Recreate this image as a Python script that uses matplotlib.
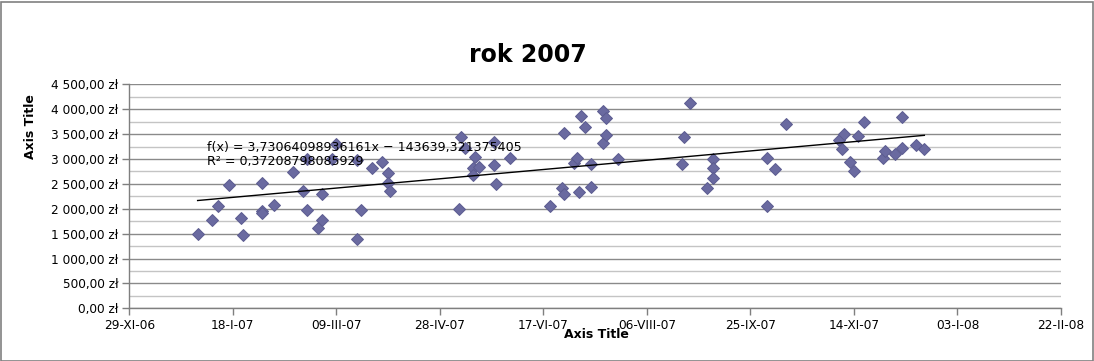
import matplotlib
matplotlib.use("Agg")
import matplotlib.pyplot as plt
import matplotlib.dates as mdates
from matplotlib.ticker import FixedLocator, FuncFormatter, MultipleLocator
from matplotlib.patches import Rectangle
import numpy as np
import datetime as dt

title = "rok 2007"
x_title = "Axis Title"
y_title = "Axis Title"
trend_label = "f(x) = 3,73064098936161x \u2212 143639,321375405\nR\u00b2 = 0,37208798085929"
trend_slope = 3.73064098936161
trend_intercept = -143639.321375405

dates = [
    "2007-01-01", "2007-01-08", "2007-01-11", "2007-01-16", "2007-01-22", "2007-01-23",
    "2007-02-01", "2007-02-01", "2007-02-01", "2007-02-07", "2007-02-16", "2007-02-21",
    "2007-02-23", "2007-02-23", "2007-02-28", "2007-03-02", "2007-03-02", "2007-03-07",
    "2007-03-09", "2007-03-19", "2007-03-19", "2007-03-21", "2007-03-26", "2007-03-31",
    "2007-04-03", "2007-04-03", "2007-04-04", "2007-05-07", "2007-05-08", "2007-05-10",
    "2007-05-14", "2007-05-14", "2007-05-15", "2007-05-17", "2007-05-24", "2007-05-24",
    "2007-05-25", "2007-06-01", "2007-06-20", "2007-06-26", "2007-06-27", "2007-06-27",
    "2007-07-02", "2007-07-03", "2007-07-04", "2007-07-05", "2007-07-07", "2007-07-10",
    "2007-07-10", "2007-07-16", "2007-07-16", "2007-07-17", "2007-07-17", "2007-07-23",
    "2007-08-23", "2007-08-24", "2007-08-27", "2007-09-04", "2007-09-07", "2007-09-07",
    "2007-09-07", "2007-10-03", "2007-10-03", "2007-10-07", "2007-10-12", "2007-11-07",
    "2007-11-08", "2007-11-09", "2007-11-12", "2007-11-14", "2007-11-16", "2007-11-19",
    "2007-11-28", "2007-11-29", "2007-12-04", "2007-12-07", "2007-12-07", "2007-12-14",
    "2007-12-18",
]
values = [
    1490, 1775, 2060, 2480, 1810, 1470,
    2520, 1950, 1920, 2075, 2745, 2365,
    3000, 1975, 1620, 2290, 1770, 3000,
    3300, 2980, 1390, 1975, 2825, 2940,
    2725, 2510, 2365, 1990, 3435, 3215,
    2815, 2680, 3045, 2835, 3335, 2885,
    2490, 3025, 2060, 2410, 2295, 3530,
    2915, 3010, 2345, 3865, 3650, 2900,
    2445, 3970, 3315, 3815, 3480, 2995,
    2905, 3450, 4130, 2425, 3000, 2825,
    2625, 3025, 2055, 2795, 3695, 3380,
    3195, 3495, 2945, 2765, 3460, 3735,
    3025, 3160, 3100, 3215, 3850, 3280,
    3195,
]

x_tick_dates = ["2006-11-29", "2007-01-18", "2007-03-09", "2007-04-28", "2007-06-17",
                "2007-08-06", "2007-09-25", "2007-11-14", "2008-01-03", "2008-02-22"]
x_tick_labels = ["29-XI-06", "18-I-07", "09-III-07", "28-IV-07", "17-VI-07",
                 "06-VIII-07", "25-IX-07", "14-XI-07", "03-I-08", "22-II-08"]
y_max = 4500
y_step = 500

def to_num(s):
    return mdates.date2num(dt.datetime.strptime(s, "%Y-%m-%d"))

xs = np.array([to_num(d) for d in dates])
ys = np.array(values, dtype=float)
xt = [to_num(d) for d in x_tick_dates]

W, H = 1094, 361
fig = plt.figure(figsize=(W / 100, H / 100), dpi=100)
fig.patch.set_facecolor("white")
ax = fig.add_axes([129.3 / W, 1 - 308.3 / H, (1061 - 129.3) / W, (308.3 - 84.3) / H])

ax.set_xlim(xt[0], xt[-1])
ax.set_ylim(0, y_max)

# gridlines
ax.yaxis.set_major_locator(MultipleLocator(y_step))
ax.yaxis.set_minor_locator(MultipleLocator(y_step / 2))
ax.grid(which="major", axis="y", color="#8a8a8a", linewidth=1.0, zorder=0)
ax.grid(which="minor", axis="y", color="#c4c4c4", linewidth=1.0, zorder=0)
ax.tick_params(axis="y", which="minor", length=0)

def yfmt(v, pos):
    s = f"{v:,.2f}".replace(",", " ").replace(".", ",")
    return s + " z\u0142"
ax.yaxis.set_major_formatter(FuncFormatter(yfmt))

ax.xaxis.set_major_locator(FixedLocator(xt))
ax.set_xticklabels(x_tick_labels)

for sp in ["top", "right"]:
    ax.spines[sp].set_visible(False)
for sp in ["left", "bottom"]:
    ax.spines[sp].set_color("#7f7f7f")
    ax.spines[sp].set_linewidth(1.0)

ax.tick_params(axis="both", which="major", color="#7f7f7f", length=5, width=1,
               labelsize=8.7, labelcolor="#000000", pad=3)

# scatter points
ax.plot(xs, ys, linestyle="none", marker="D", markersize=6.5,
        markerfacecolor="#6a6aa0", markeredgecolor="#5c5c90", markeredgewidth=0.7,
        zorder=3, clip_on=False)

# trend line (LibreOffice serial dates: days since 1899-12-30)
serial_offset = to_num("1970-01-01") - to_num("1899-12-30")
tx = np.array([xs.min(), xs.max()])
ty = trend_slope * (tx + serial_offset) + trend_intercept
ax.plot(tx, ty, color="black", linewidth=1.0, zorder=4)

fig.text(207 / W, 1 - 154.5 / H, trend_label, fontsize=9.05, ha="left", va="center",
         linespacing=1.1, color="black")

fig.text(527.5 / W, 1 - 55 / H, title, fontsize=17, fontweight="bold",
         ha="center", va="center")
fig.text(596.5 / W, 1 - 334 / H, x_title, fontsize=9, fontweight="bold",
         ha="center", va="center")
fig.text(31 / W, 1 - 127 / H, y_title, fontsize=9, fontweight="bold",
         ha="center", va="center", rotation=90)

fig.patches.append(Rectangle((0.5 / W, 0.5 / H), (W - 2) / W, (H - 2) / H,
                             transform=fig.transFigure, fill=False,
                             edgecolor="#808080", linewidth=1.2))

fig.savefig("out.png", dpi=100, facecolor="white")
